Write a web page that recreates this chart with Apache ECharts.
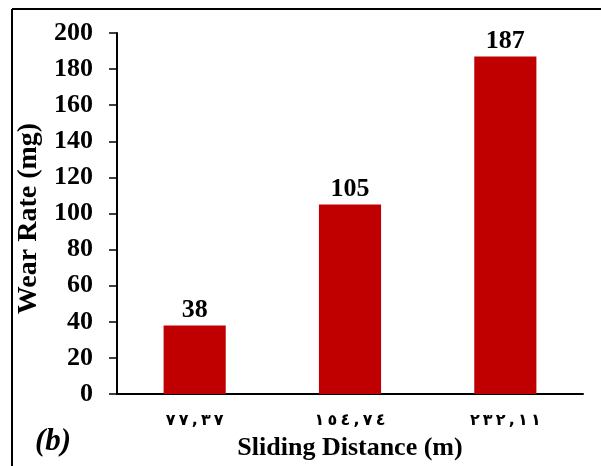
<!DOCTYPE html>
<html>
<head>
<meta charset="utf-8">
<script src="https://cdn.jsdelivr.net/npm/echarts@6/dist/echarts.min.js"></script>
<style>
html,body{margin:0;padding:0;background:#fff;}
#main{width:601px;height:466px;}
</style>
</head>
<body>
<div id="main"></div>
<script>
var categories = ["٧٧,٣٧", "١٥٤,٧٤", "٢٣٢,١١"];
var wearRate = [38, 105, 187];
var yTicks = [0, 200, 20]; // min, max, interval

window.onload = function () {
    var chart = echarts.init(document.getElementById("main"));
    var serif = "'Liberation Serif','Times New Roman',serif";
    var option = {
        animation: false,
        backgroundColor: "#fff",
        grid: { left: 117, top: 33, right: 18, bottom: 71 },
        graphic: [
            { type: "line", shape: { x1: 12, y1: 9, x2: 601, y2: 9 }, style: { stroke: "#000", lineWidth: 2 } },
            { type: "line", shape: { x1: 12, y1: 9, x2: 12, y2: 466 }, style: { stroke: "#000", lineWidth: 2 } },
            { type: "text", left: 35, top: 426, style: { text: "(b)", font: "italic bold 31px " + serif, fill: "#000" } }
        ],
        xAxis: {
            type: "category",
            data: categories,
            name: "Sliding Distance (m)",
            nameLocation: "middle",
            nameGap: 41,
            nameTextStyle: { fontFamily: serif, fontWeight: "bold", fontSize: 26, color: "#000" },
            axisLine: { lineStyle: { color: "#000", width: 2 } },
            axisTick: { show: false },
            axisLabel: {
                fontFamily: "'DejaVu Sans',sans-serif",
                fontWeight: "bold",
                fontSize: 16,
                color: "#000",
                margin: 19,
                // space the digits out like the reference, LRM keeps the order left to right
                formatter: function (v) { return v.split("").join("\u200E\u2009\u200E"); }
            }
        },
        yAxis: {
            type: "value",
            min: yTicks[0],
            max: yTicks[1],
            interval: yTicks[2],
            name: "Wear Rate (mg)",
            nameLocation: "middle",
            nameGap: 71,
            nameTextStyle: { fontFamily: serif, fontWeight: "bold", fontSize: 28, color: "#000", padding: [0, 10, 0, 0] },
            axisLine: { show: true, lineStyle: { color: "#000", width: 2 } },
            axisTick: { show: true, length: 8, lineStyle: { color: "#000", width: 1.5 } },
            splitLine: { show: false },
            axisLabel: { fontFamily: serif, fontWeight: "bold", fontSize: 26, color: "#000", margin: 24 }
        },
        series: [{
            type: "bar",
            data: wearRate,
            barWidth: "40%",
            itemStyle: { color: "#c00000" },
            label: {
                show: true,
                position: "top",
                distance: 2,
                fontFamily: serif,
                fontWeight: "bold",
                fontSize: 26,
                color: "#000"
            }
        }]
    };
    chart.setOption(option);
};
</script>
</body>
</html>
